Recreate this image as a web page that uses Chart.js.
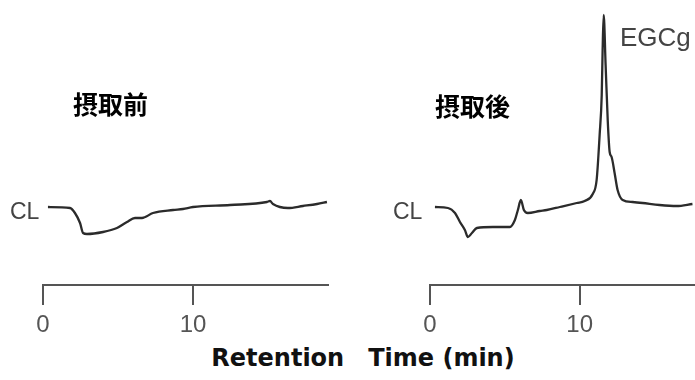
<!DOCTYPE html>
<html>
<head>
<meta charset="utf-8">
<script src="https://cdn.jsdelivr.net/npm/chart.js@4.4.1/dist/chart.umd.min.js"></script>
<style>
  html, body { margin: 0; padding: 0; background: #fff; }
  body { width: 695px; height: 380px; position: relative; overflow: hidden; }
  canvas { position: absolute; top: 0; }
  .lbl { position: absolute; white-space: nowrap; line-height: 1; }
  .cl { font-family: "Liberation Sans", Arial, sans-serif; font-size: 23px; color: #444; }
  .jp { font-family: "Noto Sans CJK JP", sans-serif; font-weight: 700; font-size: 25px; color: #000; }
</style>
</head>
<body>
<canvas id="before" width="340" height="340" style="left:0"></canvas>
<canvas id="after" width="308" height="340" style="left:387px"></canvas>

<div class="lbl jp" style="left:73px; top:91px;">摂取前</div>
<div class="lbl jp" style="left:435px; top:93px;">摂取後</div>
<div class="lbl cl" style="left:10px; top:200px;">CL</div>
<div class="lbl cl" style="left:393px; top:200px;">CL</div>
<div class="lbl cl" style="left:620px; top:24px; font-size:26px;">EGCg</div>
<div class="lbl" style="left:0; width:726px; top:346px; text-align:center; font-family:'DejaVu Sans', sans-serif; font-weight:bold; font-size:24px; color:#111;">Retention　Time (min)</div>

<script>
// retention time (min) and detector signal (arbitrary units)
const timeBefore = [0.33, 1.8, 2.13, 2.47, 2.67, 2.93, 4.0, 4.93, 5.6, 6.13, 6.6, 7.33, 8.67, 9.33, 10.0, 12.47, 14.93, 15.13, 15.33, 16.33, 17.33, 18.27, 18.93];
const signalBefore = [78, 77, 72, 62, 52, 51, 53, 57, 63, 67, 67, 72, 75, 76, 78, 80, 83, 84, 81, 77, 79, 81, 83];

const timeAfter = [0.33, 1.2, 1.67, 2.0, 2.33, 2.53, 2.8, 3.13, 4.2, 5.33, 5.67, 5.87, 6.07, 6.27, 6.53, 7.33, 7.8, 8.67, 9.8, 10.33, 10.87, 11.13, 11.33, 11.47, 11.53, 11.6, 11.73, 11.87, 12.0, 12.13, 12.33, 12.53, 12.87, 13.53, 14.2, 15.33, 16.47, 17.53];
const signalAfter = [78, 77, 72, 63, 55, 48, 52, 57, 58, 58, 65, 75, 85, 75, 72, 74, 75, 78, 82, 84, 91, 105, 150, 190, 235, 270, 220, 165, 133, 128, 112, 95, 85, 83, 82, 80, 79, 81];

const tickValues = [0, 10];
const xMaxBefore = 19;
const xMaxAfter = 17.7;

function makeChart(id, times, signals, xMax, padRight) {
    const points = times.map((t, i) => ({ x: t, y: signals[i] }));
    return new Chart(document.getElementById(id), {
        type: 'line',
        data: {
            datasets: [{
                data: points,
                borderColor: '#2b2b2b',
                borderWidth: 2.3,
                pointRadius: 0,
                cubicInterpolationMode: 'monotone',
                fill: false
            }]
        },
        options: {
            responsive: false,
            animation: false,
            devicePixelRatio: 1,
            layout: { padding: { left: 43, right: padRight, top: 5, bottom: 0 } },
            plugins: { legend: { display: false }, tooltip: { enabled: false } },
            scales: {
                x: {
                    type: 'linear',
                    min: 0,
                    max: xMax,
                    afterBuildTicks: scale => { scale.ticks = tickValues.map(v => ({ value: v })); },
                    afterFit: scale => { scale.height = 55; },
                    grid: { drawOnChartArea: false, drawTicks: true, tickLength: 20, color: '#555', lineWidth: 2 },
                    border: { display: true, color: '#555', width: 2 },
                    ticks: {
                        color: '#555',
                        font: { family: 'Liberation Sans', size: 24 },
                        padding: 6,
                        autoSkip: false,
                        maxRotation: 0
                    }
                },
                y: { display: false, min: 0, max: 280 }
            }
        }
    });
}

makeChart('before', timeBefore, signalBefore, xMaxBefore, 12);
makeChart('after', timeAfter, signalAfter, xMaxAfter, 0);
</script>
</body>
</html>
